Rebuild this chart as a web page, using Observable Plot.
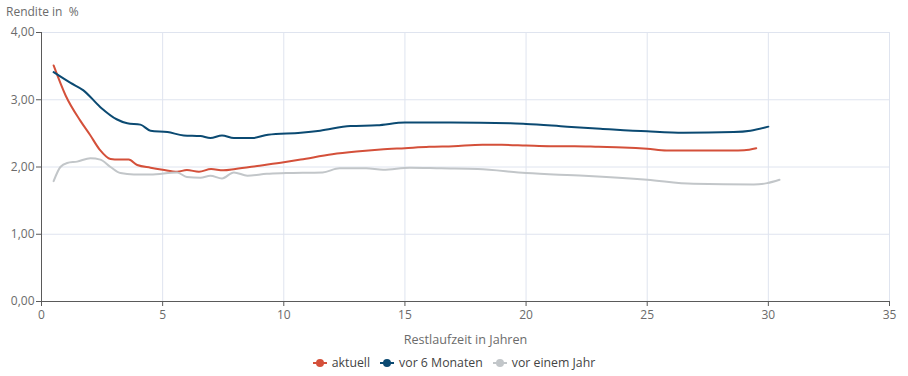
<!DOCTYPE html>
<html><head><meta charset="utf-8">
<script src="https://cdn.jsdelivr.net/npm/d3@7"></script>
<script src="https://cdn.jsdelivr.net/npm/@observablehq/plot@0.6"></script>
<style>
body{margin:0;background:#fff;font-family:"Open Sans",sans-serif;}
#wrap{width:908px;position:relative;}
#ylab{height:20px;font-size:12px;color:#6b6b6b;padding-left:6px;line-height:24px;}
#legend{display:flex;justify-content:center;gap:10px;font-size:12.3px;color:#444;margin-top:2px;}
.item{display:flex;align-items:center;gap:5px;}
.sym{position:relative;width:14px;height:8px;}
.sym .l{position:absolute;left:0;top:3px;width:14px;height:2px;}
.sym .d{position:absolute;left:3px;top:0;width:8px;height:8px;border-radius:50%;}
</style></head>
<body><div id="wrap"><div id="ylab">Rendite in&nbsp; %</div><div id="chart"></div><div id="legend"></div></div>
<script>
const seriesNames = ["aktuell", "vor 6 Monaten", "vor einem Jahr"];
const colors = ["#d4503a", "#0b4a72", "#c2c6c9"];

const aktuellX = [0.5,1,1.6,2,2.4,2.85,3.2,3.6,3.95,4.5,5,5.6,6,6.5,7,7.5,8,9,10,10.7,12,13,14,15,16,17,18.2,19,20,21,22,23,24,25,25.8,27,28.5,29,29.5];
const aktuellY = [3.51,3.06,2.69,2.48,2.26,2.12,2.11,2.11,2.03,1.99,1.96,1.93,1.955,1.93,1.97,1.95,1.97,2.02,2.07,2.11,2.19,2.23,2.26,2.28,2.30,2.31,2.33,2.33,2.32,2.31,2.31,2.30,2.29,2.27,2.245,2.245,2.245,2.25,2.28];

const m6X = [0.5,1.2,1.73,2.43,3.1,3.54,4.08,4.5,5.2,5.87,6.56,6.97,7.45,7.94,8.7,9.35,10.7,11.5,12.75,13.85,15,16.9,19.35,20,21.7,23.07,25,26.5,28.57,29.26,30];
const m6Y = [3.41,3.25,3.14,2.89,2.71,2.65,2.63,2.54,2.52,2.47,2.46,2.43,2.47,2.43,2.43,2.48,2.51,2.54,2.61,2.62,2.66,2.66,2.65,2.64,2.60,2.57,2.53,2.51,2.52,2.54,2.60];

const y1X = [0.5,0.78,1.06,1.47,2.02,2.43,2.85,3.26,3.81,4.5,5.6,6,6.56,6.97,7.45,7.94,8.5,9.3,10.1,11.6,12.3,13.4,14.1,15.2,16.5,18,20,22.4,25,26.9,29.4,29.95,30.46];
const y1Y = [1.79,2.00,2.06,2.08,2.13,2.11,2.00,1.91,1.89,1.89,1.92,1.85,1.84,1.87,1.83,1.92,1.87,1.90,1.91,1.92,1.98,1.98,1.96,1.99,1.98,1.97,1.91,1.87,1.81,1.75,1.74,1.76,1.81];

const xTicks = [0,5,10,15,20,25,30,35];
const yTicks = [0,1,2,3,4];

const data = [
  ...aktuellX.map((x,i)=>({x, y: aktuellY[i], s: seriesNames[0]})),
  ...m6X.map((x,i)=>({x, y: m6Y[i], s: seriesNames[1]})),
  ...y1X.map((x,i)=>({x, y: y1Y[i], s: seriesNames[2]}))
];
const fmt = d => d.toFixed(2).replace(".", ",");

const plot = Plot.plot({
  width: 908, height: 332,
  marginTop: 12, marginBottom: 51, marginLeft: 41, marginRight: 19,
  style: {fontFamily: "'Open Sans', sans-serif", fontSize: "12px", color: "#6b6b6b", background: "#fff"},
  x: {domain: [0,35], ticks: xTicks, tickFormat: d => String(d), label: "Restlaufzeit in Jahren", labelAnchor: "center", labelArrow: "none", labelOffset: 42, tickSize: 5, tickPadding: 4},
  y: {domain: [0,4], ticks: yTicks, tickFormat: fmt, label: null, tickSize: 5, tickPadding: 2},
  color: {domain: seriesNames, range: colors},
  marks: [
    Plot.gridX(xTicks, {stroke: "#dfe4ef", strokeOpacity: 1}),
    Plot.gridY(yTicks, {stroke: "#dfe4ef", strokeOpacity: 1}),
    Plot.line(data, {x: "x", y: "y", stroke: "s", z: "s", strokeWidth: 2, curve: "monotone-x"}),
    Plot.ruleX([0], {stroke: "#5a5a5a"}),
    Plot.ruleY([0], {stroke: "#5a5a5a"})
  ]
});
plot.querySelectorAll("[aria-label='x-axis tick'] path, [aria-label='y-axis tick'] path").forEach(p=>p.setAttribute("stroke","#5a5a5a"));
plot.querySelectorAll("text").forEach(t=>{
  if (t.textContent.includes("Restlaufzeit")) {
    t.textContent = "Restlaufzeit in Jahren";
    t.setAttribute("font-size","12.6px");
  }
});
document.getElementById("chart").appendChild(plot);

const leg = document.getElementById("legend");
seriesNames.forEach((n,i)=>{
  const it = document.createElement("div"); it.className="item";
  it.innerHTML = `<span class="sym"><span class="l" style="background:${colors[i]}"></span><span class="d" style="background:${colors[i]}"></span></span><span>${n}</span>`;
  leg.appendChild(it);
});
</script></body></html>
